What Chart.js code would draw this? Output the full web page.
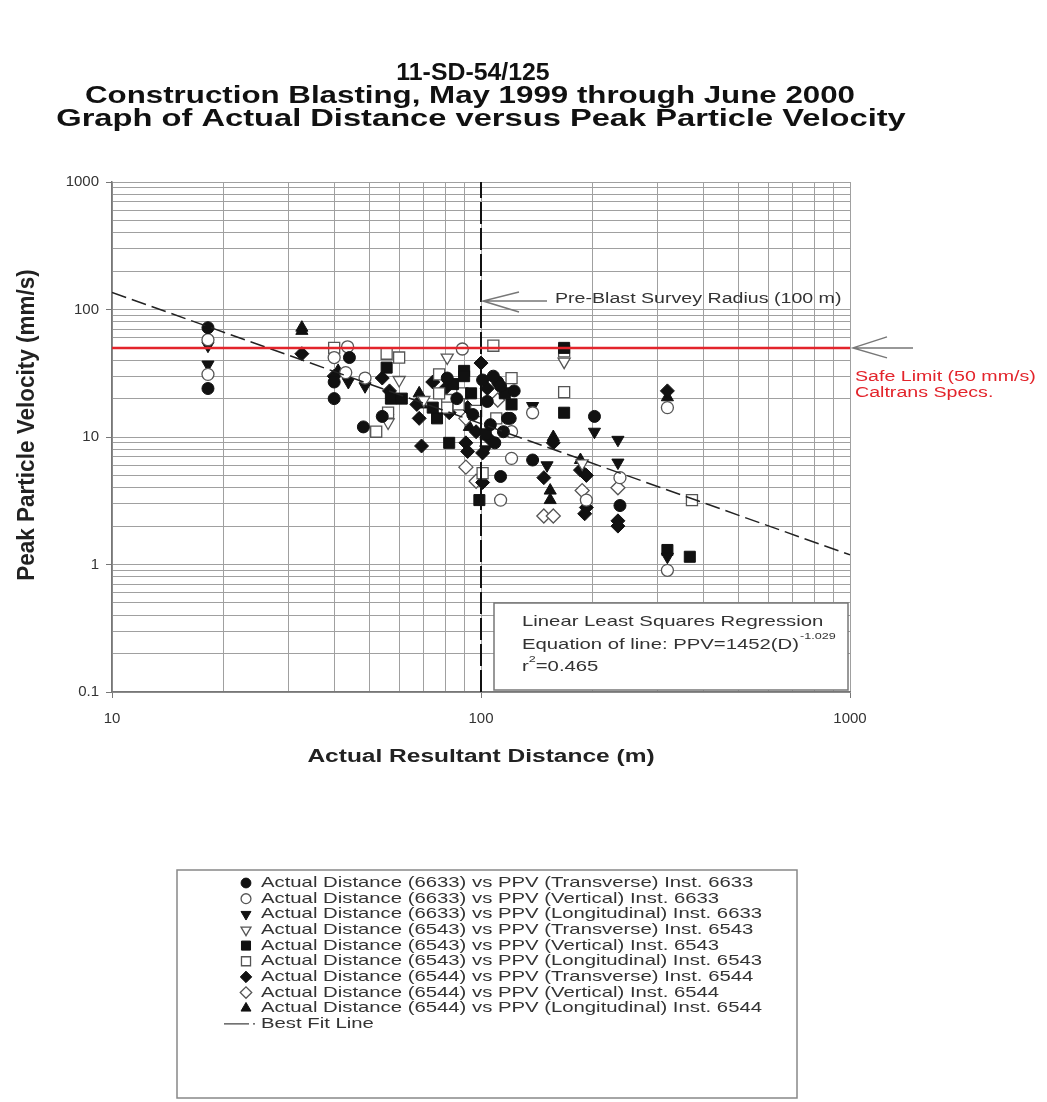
<!DOCTYPE html>
<html>
<head>
<meta charset="utf-8">
<script src="https://cdn.jsdelivr.net/npm/chart.js@4.4.1/dist/chart.umd.min.js"></script>
<style>
  html, body { margin: 0; padding: 0; background: #fff; }
  #wrap { width: 1047px; height: 1102px; }
</style>
</head>
<body>
<div id="wrap"><canvas id="chart" width="1047" height="1102"></canvas></div>
<script>
// Distance (m), PPV (mm/s)
const t6633 = [[18.2, 72], [18.2, 24], [44, 42], [40, 27], [40, 20], [48, 12], [54, 14.5], [81, 29], [101, 28],
  [111, 27], [104, 19], [118, 14], [115, 11], [106, 12.5], [113, 4.9], [120, 14], [203, 14.5], [238, 2.9],
  [138, 6.6], [123, 23], [108, 30], [113, 25], [86, 20], [95, 15], [109, 9]];
const v6633 = [[18.2, 58], [18.2, 31], [43.5, 51], [40, 42], [43, 32], [48.5, 29], [89, 49], [121, 11],
  [121, 6.8], [113, 3.2], [138, 15.5], [238, 4.8], [320, 17], [320, 0.9], [193, 3.2]];
const l6633 = [[18.2, 37], [18.2, 52], [43.7, 27], [48.5, 25], [138, 17.5], [203, 11], [235, 9.5], [235, 6.3],
  [151, 6], [320, 1.15], [103, 8]];
const t6543 = [[60, 28], [56, 13], [81, 42], [168, 39], [188, 6.2], [70, 19.5]];
const v6543 = [[55.5, 35], [57, 20], [61, 20], [82, 9], [90, 33], [90, 30], [94, 22], [121, 18], [76, 14],
  [99, 3.2], [168, 50], [168, 15.5], [320, 1.3], [368, 1.15], [74, 17], [84, 26], [116, 22], [103, 10.5]];
const l6543 = [[40, 50], [52, 11], [55.5, 45], [60, 42], [77, 31], [81, 19.5], [108, 52], [121, 29], [77, 22],
  [89, 22], [56, 15.5], [81, 17], [87, 18], [97, 16], [110, 14], [101, 5.2], [168, 47], [168, 22.5], [373, 3.2]];
const t6544 = [[32.7, 45], [40, 30], [54, 29], [56.5, 23], [55.5, 15], [68, 14], [69, 8.5], [74, 27], [82, 15.5],
  [100, 38], [67, 18], [91, 9], [92, 7.7], [101, 7.5], [106, 9.5], [101, 4.4], [148, 4.8], [157, 9], [186, 5.5],
  [193, 5], [193, 2.8], [191, 2.5], [235, 2.2], [235, 2.0], [320, 23], [104, 24], [80, 24], [92, 17], [97, 11]];
const v6544 = [[91, 14], [111, 19.5], [91, 5.8], [97, 4.5], [235, 4], [148, 2.4], [157, 2.4], [188, 3.8]];
const l6544 = [[32.7, 72], [32.7, 68], [41, 33], [69, 18], [68, 22], [93, 12], [157, 10], [154, 3.8], [154, 3.2],
  [320, 20.5], [186, 6.6]];

const safeLimit = [[10, 50], [1000, 50]];
const surveyRadius = [[100, 0.1], [100, 1000]];
const bestFit = [[10, 136], [1000, 1.19]];

const seriesLabels = [
  'Actual Distance (6633) vs PPV (Transverse) Inst. 6633',
  'Actual Distance (6633) vs PPV (Vertical) Inst. 6633',
  'Actual Distance (6633) vs PPV (Longitudinal) Inst. 6633',
  'Actual Distance (6543) vs PPV (Transverse) Inst. 6543',
  'Actual Distance (6543) vs PPV (Vertical) Inst. 6543',
  'Actual Distance (6543) vs PPV (Longitudinal) Inst. 6543',
  'Actual Distance (6544) vs PPV (Transverse) Inst. 6544',
  'Actual Distance (6544) vs PPV (Vertical) Inst. 6544',
  'Actual Distance (6544) vs PPV (Longitudinal) Inst. 6544'
];

const xMajorTicks = [10, 100, 1000];
const xTickLabels = ['10', '100', '1000'];
const yMajorTicks = [0.1, 1, 10, 100, 1000];
const yTickLabels = ['0.1', '1', '10', '100', '1000'];

const FONT = "'Liberation Sans', Arial, sans-serif";
const SX = 1.4; // the scan is stretched sideways

const toXY = arr => arr.map(p => ({ x: p[0], y: p[1] }));

function logTicks(majors) {
  const out = [];
  majors.forEach((m, i) => {
    out.push({ value: m, major: true });
    if (i < majors.length - 1) {
      for (let k = 2; k <= 9; k++) out.push({ value: +(m * k).toPrecision(3), major: false });
    }
  });
  return out;
}

function tickLabel(majors, labels) {
  return v => {
    const i = majors.findIndex(m => Math.abs(m - v) < m * 1e-6);
    return i >= 0 ? labels[i] : '';
  };
}

function sText(ctx, text, x, y, font, color, align, sx) {
  const k = sx || SX;
  ctx.save();
  ctx.font = font;
  ctx.fillStyle = color;
  ctx.textBaseline = 'middle';
  ctx.textAlign = 'left';
  const w = ctx.measureText(text).width * k;
  let x0 = x;
  if (align === 'center') x0 = x - w / 2;
  if (align === 'right') x0 = x - w;
  ctx.translate(x0, y);
  ctx.scale(k, 1);
  ctx.fillText(text, 0, 0);
  ctx.restore();
  return w;
}

function marker(style, fill, rot, r) {
  return {
    pointStyle: style,
    pointRotation: rot,
    pointRadius: r,
    pointHoverRadius: r,
    pointBackgroundColor: fill ? '#111' : '#fff',
    pointBorderColor: fill ? '#111' : '#555',
    pointBorderWidth: fill ? 1 : 1.3
  };
}

const markerStyles = [
  marker('circle', true, 0, 6),
  marker('circle', false, 0, 6),
  marker('triangle', true, 180, 7),
  marker('triangle', false, 180, 7),
  marker('rect', true, 0, 7.8),
  marker('rect', false, 0, 7.8),
  marker('rectRot', true, 0, 7),
  marker('rectRot', false, 0, 7),
  marker('triangle', true, 0, 7)
];
const seriesData = [t6633, v6633, l6633, t6543, v6543, l6543, t6544, v6544, l6544];

function lineSet(data, color, width, dash) {
  return {
    data: toXY(data), showLine: true, pointRadius: 0, pointHoverRadius: 0,
    borderColor: color, borderWidth: width, borderDash: dash, fill: false
  };
}

const datasets = [
  lineSet(safeLimit, '#e3242b', 2.5, []),
  lineSet(surveyRadius, '#111', 2, [22, 4]),
  lineSet(bestFit, '#222', 1.5, [15, 6])
];
seriesData.forEach((d, i) => {
  datasets.push(Object.assign({ label: seriesLabels[i], data: toXY(d), isSeries: i }, markerStyles[i]));
});

const decor = {
  id: 'decor',
  afterDraw(chart) {
    const ctx = chart.ctx;
    const x = chart.scales.x, y = chart.scales.y;
    const area = chart.chartArea;

    // titles
    const tf = 'bold 23px ' + FONT;
    sText(ctx, '11-SD-54/125', 473, 74, tf, '#111', 'center', 1.08);
    sText(ctx, 'Construction Blasting, May 1999 through June 2000', 470, 97, tf, '#111', 'center', 1.36);
    sText(ctx, 'Graph of Actual Distance versus Peak Particle Velocity', 481, 120, tf, '#111', 'center', 1.42);

    // axis titles
    sText(ctx, 'Actual Resultant Distance (m)', (area.left + area.right) / 2, 757, 'bold 17.5px ' + FONT, '#222', 'center');
    ctx.save();
    ctx.font = 'bold 22.5px ' + FONT;
    ctx.fillStyle = '#222';
    ctx.textAlign = 'center';
    ctx.textBaseline = 'middle';
    ctx.translate(27, 425);
    ctx.rotate(-Math.PI / 2);
    ctx.scale(1, 1.05);
    ctx.fillText('Peak Particle Velocity (mm/s)', 0, 0);
    ctx.restore();

    // arrows
    ctx.save();
    ctx.strokeStyle = '#777';
    ctx.lineWidth = 1.5;
    const px = x.getPixelForValue(surveyRadius[0][0]) + 2;
    const py = 301;
    ctx.beginPath();
    ctx.moveTo(px, py); ctx.lineTo(px + 64, py);
    ctx.moveTo(px + 36, py - 9); ctx.lineTo(px, py); ctx.lineTo(px + 36, py + 11);
    ctx.stroke();
    const sy = y.getPixelForValue(safeLimit[1][1]);
    const sx = area.right + 3;
    ctx.beginPath();
    ctx.moveTo(sx, sy); ctx.lineTo(sx + 60, sy);
    ctx.moveTo(sx + 34, sy - 11); ctx.lineTo(sx, sy); ctx.lineTo(sx + 34, sy + 10);
    ctx.stroke();
    ctx.restore();

    sText(ctx, 'Pre-Blast Survey Radius (100 m)', 555, 299, '14px ' + FONT, '#333', 'left');
    sText(ctx, 'Safe Limit (50 mm/s)', 855, 377, '14px ' + FONT, '#e3242b', 'left');
    sText(ctx, 'Caltrans Specs.', 855, 393, '14px ' + FONT, '#e3242b', 'left');

    // regression box
    ctx.save();
    ctx.fillStyle = '#fff';
    ctx.strokeStyle = '#777';
    ctx.lineWidth = 1.5;
    ctx.fillRect(494, 603, 354, 87);
    ctx.strokeRect(494, 603, 354, 87);
    ctx.restore();
    const rf = '14.5px ' + FONT;
    sText(ctx, 'Linear Least Squares Regression', 522, 622, rf, '#333', 'left');
    let w = sText(ctx, 'Equation of line: PPV=1452(D)', 522, 645, rf, '#333', 'left');
    sText(ctx, '-1.029', 522 + w + 1, 637, '9px ' + FONT, '#333', 'left');
    w = sText(ctx, 'r', 522, 667, rf, '#333', 'left');
    sText(ctx, '2', 522 + w, 660, '9px ' + FONT, '#333', 'left');
    sText(ctx, '=0.465', 522 + w + 7, 667, rf, '#333', 'left');

    // legend
    ctx.save();
    ctx.strokeStyle = '#888';
    ctx.lineWidth = 1.5;
    ctx.strokeRect(177, 870, 620, 228);
    ctx.restore();
    const lf = '14.5px ' + FONT;
    const rowH = 15.65;
    chart.data.datasets.forEach(ds => {
      if (ds.isSeries === undefined) return;
      const ry = 883 + ds.isSeries * rowH;
      ctx.save();
      ctx.fillStyle = ds.pointBackgroundColor;
      ctx.strokeStyle = ds.pointBorderColor;
      ctx.lineWidth = ds.pointBorderWidth;
      Chart.helpers.drawPoint(ctx, {
        pointStyle: ds.pointStyle, rotation: ds.pointRotation,
        radius: ds.pointRadius * 0.82, borderWidth: ds.pointBorderWidth
      }, 246, ry);
      ctx.restore();
      sText(ctx, ds.label, 261, ry, lf, '#333', 'left');
    });
    const by = 883 + 9 * rowH;
    ctx.save();
    ctx.strokeStyle = '#444';
    ctx.lineWidth = 1.2;
    ctx.beginPath();
    ctx.moveTo(224, by); ctx.lineTo(249, by);
    ctx.moveTo(253, by); ctx.lineTo(255, by);
    ctx.stroke();
    ctx.restore();
    sText(ctx, 'Best Fit Line', 261, by, lf, '#333', 'left');
  }
};

new Chart(document.getElementById('chart'), {
  type: 'scatter',
  data: { datasets },
  options: {
    responsive: false,
    animation: false,
    layout: { padding: { left: 0, top: 182, right: 197, bottom: 370 } },
    plugins: { legend: { display: false }, tooltip: { enabled: false }, title: { display: false } },
    scales: {
      x: {
        type: 'logarithmic', min: 10, max: 1000,
        afterBuildTicks: s => { s.ticks = logTicks(xMajorTicks); },
        afterFit: s => { s.height = 40; },
        grid: {
          color: '#a0a0a0', lineWidth: 1, tickLength: 6,
          tickColor: c => (c.tick && c.tick.major ? '#777' : 'rgba(0,0,0,0)')
        },
        border: { color: '#777', width: 1.5 },
        ticks: {
          autoSkip: false, maxRotation: 0, padding: 12, color: '#333',
          font: { family: FONT, size: 15 },
          callback: tickLabel(xMajorTicks, xTickLabels)
        }
      },
      y: {
        type: 'logarithmic', min: 0.1, max: 1000,
        afterBuildTicks: s => { s.ticks = logTicks(yMajorTicks); },
        afterFit: s => { s.width = 112; },
        grid: {
          color: '#a0a0a0', lineWidth: 1, tickLength: 6,
          tickColor: c => (c.tick && c.tick.major ? '#777' : 'rgba(0,0,0,0)')
        },
        border: { color: '#777', width: 1.5 },
        ticks: {
          autoSkip: false, padding: 7, color: '#333',
          font: { family: FONT, size: 15 },
          callback: tickLabel(yMajorTicks, yTickLabels)
        }
      }
    }
  },
  plugins: [decor]
});
</script>
</body>
</html>
